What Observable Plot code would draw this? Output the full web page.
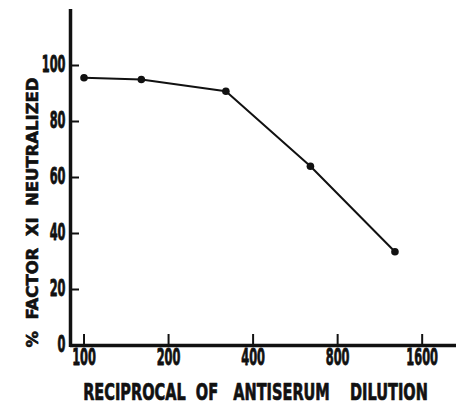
<!DOCTYPE html>
<html>
<head>
<meta charset="utf-8">
<script src="https://cdn.jsdelivr.net/npm/d3@7"></script>
<script src="https://cdn.jsdelivr.net/npm/@observablehq/plot@0.6"></script>
<style>
  html, body { margin: 0; padding: 0; background: #fff; }
  #chart svg { display: block; }
</style>
</head>
<body>
<div id="chart"></div>
<script>
const dilution = [100, 160, 320, 640, 1280];
const neutralized = [95.6, 95, 90.8, 64, 33.5];
const xTicks = [100, 200, 400, 800, 1600];
const yTicks = [0, 20, 40, 60, 80, 100];
const xTitle = "RECIPROCAL  OF   ANTISERUM    DILUTION";
const yTitle = "%  FACTOR  XI  NEUTRALIZED";

const data = dilution.map((d, i) => ({x: d, y: neutralized[i]}));

const W = 456, H = 405;
const mL = 70, mR = 0, mT = 9, mB = 60;
const innerW = W - mL - mR, innerH = H - mT - mB;
const xDomain = [89.5, 2120];
const ink = "#111";
const font = "'DejaVu Sans Condensed', 'DejaVu Sans', sans-serif";

const chart = Plot.plot({
  width: W,
  height: H,
  marginLeft: mL,
  marginRight: mR,
  marginTop: mT,
  marginBottom: mB,
  style: {fontFamily: font, fontWeight: "bold", color: ink, background: "#fff"},
  x: {type: "log", domain: xDomain, axis: null},
  y: {domain: [0, 120], axis: null},
  marks: [
    Plot.tickX(xTicks, {x: d => d, insetTop: innerH - 11, stroke: ink, strokeWidth: 2}),
    Plot.tickY(yTicks.filter(d => d > 0), {y: d => d, insetRight: innerW - 9, stroke: ink, strokeWidth: 2}),
    Plot.ruleY([0], {stroke: ink, strokeWidth: 3.5}),
    Plot.ruleX([xDomain[0]], {stroke: ink, strokeWidth: 3.5, insetBottom: -2}),
    Plot.text(xTicks, {x: d => d, text: d => String(d), frameAnchor: "bottom", textAnchor: "middle", lineAnchor: "middle", dy: 12, fontSize: 23, fontWeight: "bold", fill: ink, stroke: ink, strokeWidth: 0.8, className: "xtick"}),
    Plot.text(yTicks, {y: d => d, text: d => String(d), frameAnchor: "left", textAnchor: "end", lineAnchor: "middle", dx: -5, dy: -1, fontSize: 23, fontWeight: "bold", fill: ink, stroke: ink, strokeWidth: 0.8, className: "ytick"}),
    Plot.line(data, {x: "x", y: "y", stroke: ink, strokeWidth: 2}),
    Plot.dot(data, {x: "x", y: "y", r: 3.8, fill: ink, stroke: "none"}),
    Plot.text([xTitle], {frameAnchor: "bottom", textAnchor: "middle", lineAnchor: "middle", dx: -8, dy: 47, fontSize: 23, fontWeight: "bold", fill: ink, stroke: ink, strokeWidth: 0.7, className: "xtitle"}),
    Plot.text([yTitle], {frameAnchor: "left", textAnchor: "middle", lineAnchor: "middle", rotate: -90, dx: -38, dy: 35, fontSize: 16, fontWeight: "bold", fill: ink, stroke: ink, strokeWidth: 0.6, className: "ytitle"})
  ]
});

document.getElementById("chart").appendChild(chart);

const svg = d3.select(chart);
// condensed look for tick labels
svg.selectAll(".xtick text, .ytick text")
  .attr("transform", function() {
    const t = this.getAttribute("transform") || "";
    return t + " scale(0.55,1)";
  });
// squeeze x title horizontally to its reference width
svg.selectAll(".xtitle text")
  .style("white-space", "pre")
  .attr("transform", function() {
    const t = this.getAttribute("transform") || "";
    const w = this.getComputedTextLength() || 345;
    return t + ` scale(${(345 / w).toFixed(4)},1)`;
  });
svg.selectAll(".ytitle text")
  .style("white-space", "pre")
  .attr("textLength", 270)
  .attr("lengthAdjust", "spacingAndGlyphs");
</script>
</body>
</html>
